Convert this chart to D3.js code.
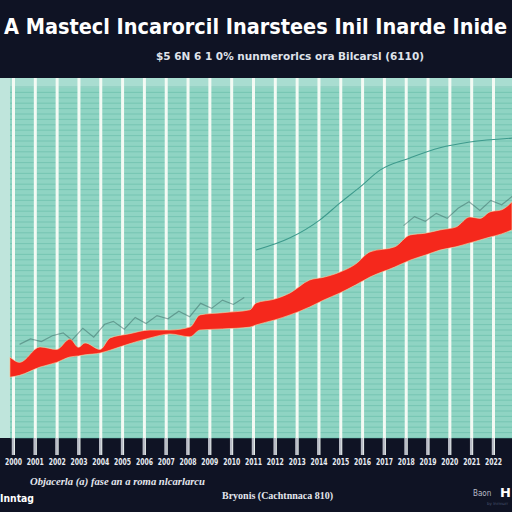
<!DOCTYPE html>
<html>
<head>
<meta charset="utf-8">
<script src="https://cdn.jsdelivr.net/npm/d3@7"></script>
<style>
  html, body { margin: 0; padding: 0; background: #0f1324; }
  svg { display: block; }
</style>
</head>
<body>
<div id="chart"></div>
<script>
// ---------- data ----------
const titleText = "A Mastecl Incarorcil Inarstees Inil Inarde Inide";
const subtitleText = "$5 6N 6 1 0% nunmerorlcs ora Bilcarsl (6110)";
const periods = ["2000","2001","2002","2003","2004","2005","2006","2007","2008","2009","2010","2011",
                 "2012","2013","2014","2015","2016","2017","2018","2019","2020","2021","2022"];
// red band (period index, upper value, lower value)
const bandT    = [-0.14, 0.3, 1.24, 2.0, 2.61, 3.0, 3.3, 3.99, 4.45, 5.3, 6.28, 7.2, 8.11, 8.57, 9.6, 10.86, 11.14, 12.0, 12.7, 13.6, 14.2, 14.99, 15.7, 16.36, 17.5, 18.2, 18.9, 19.57, 20.3, 20.94, 21.4, 21.86, 22.4, 22.87];
const bandHigh = [22.5, 21.0, 25.3, 24.6, 27.5, 25.2, 26.4, 24.6, 27.8, 28.9, 30.0, 30.0, 30.8, 34.2, 34.8, 35.6, 37.5, 38.6, 40.3, 43.9, 44.6, 46.1, 48.3, 51.7, 53.1, 56.4, 56.9, 57.8, 58.6, 61.4, 61.0, 62.8, 63.4, 65.6];
const bandLow  = [16.9, 17.4, 19.7, 21.0, 22.5, 22.8, 23.1, 23.6, 24.4, 26.1, 27.8, 28.9, 28.1, 30.0, 30.3, 30.8, 31.4, 32.8, 34.2, 36.4, 38.2, 40.3, 42.5, 44.7, 47.5, 49.4, 50.8, 52.2, 53.1, 54.2, 55.0, 55.8, 56.7, 57.8];
// thin teal trend line
const trendT   = [11.14, 12.7, 14.07, 14.99, 15.9, 16.82, 18.2, 19.57, 20.94, 22.87];
const trendV   = [52.2, 55.6, 60.6, 65.3, 69.7, 74.4, 77.8, 80.6, 82.2, 83.3];
// dark jagged noise series above the band
const noiseT   = [0.3, 0.8, 1.3, 1.8, 2.3, 2.7, 3.2, 3.7, 4.2, 4.6, 5.1, 5.6, 6.1, 6.6, 7.1, 7.6, 8.1, 8.6, 9.1, 9.6, 10.1, 10.6];
const noiseV   = [26.0, 27.5, 26.8, 28.4, 29.2, 27.2, 30.5, 28.0, 31.6, 32.4, 30.2, 33.5, 31.8, 34.0, 33.1, 35.2, 33.7, 37.4, 36.0, 38.3, 37.1, 39.0];
const noise2T  = [17.9, 18.4, 18.9, 19.4, 19.9, 20.4, 20.9, 21.4, 21.9, 22.4, 22.9];
const noise2V  = [59.0, 61.5, 60.2, 62.4, 61.0, 63.8, 65.6, 63.2, 66.0, 64.8, 67.2];

// ---------- layout ----------
const W = 512, H = 512;
const plot = { left: 10, right: 512, top: 78, bottom: 438 };

const svg = d3.select("#chart").append("svg").attr("width", W).attr("height", H);
svg.append("rect").attr("width", W).attr("height", H).attr("fill", "#0f1324");

const x = d3.scaleLinear().domain([0, periods.length - 1]).range([13, 493]);
const y = d3.scaleLinear().domain([0, 100]).range([plot.bottom, plot.top]);

// plot background
svg.append("rect").attr("x", plot.left).attr("y", plot.top)
  .attr("width", plot.right - plot.left).attr("height", plot.bottom - plot.top)
  .attr("fill", "#8fd4c3");
svg.append("rect").attr("x", 0).attr("y", plot.top)
  .attr("width", plot.left).attr("height", plot.bottom - plot.top)
  .attr("fill", "#bfe5dc");
svg.append("rect").attr("x", plot.left).attr("y", plot.top)
  .attr("width", plot.right - plot.left).attr("height", 10)
  .attr("fill", "#a9ddd1");

// horizontal texture grid
const hTicks = d3.range(0, 98, 1.5);
svg.append("g").selectAll("line").data(hTicks).join("line")
  .attr("x1", plot.left).attr("x2", plot.right)
  .attr("y1", d => y(d)).attr("y2", d => y(d))
  .attr("stroke", "#5fb8a4").attr("stroke-width", 1).attr("opacity", 0.5);

// bottom axis (ticks extend below plot)
const xAxis = d3.axisBottom(x)
  .tickValues(d3.range(periods.length))
  .tickFormat(i => periods[i])
  .tickSize(plot.bottom - plot.top + 17)
  .tickPadding(4);
const ax = svg.append("g").attr("transform", `translate(0,${plot.top})`).call(xAxis);
ax.select(".domain").remove();
ax.selectAll(".tick line").attr("stroke", "#f3faf4").attr("stroke-width", 3);
ax.selectAll(".tick text")
  .attr("fill", "#e8ecf2")
  .attr("font-family", "'DejaVu Sans Condensed', 'DejaVu Sans', sans-serif")
  .attr("font-weight", "bold").attr("font-size", 8)
  .attr("textLength", 17).attr("lengthAdjust", "spacingAndGlyphs");
// grey stubs below plot
svg.append("g").selectAll("line").data(d3.range(periods.length)).join("line")
  .attr("x1", d => x(d)).attr("x2", d => x(d))
  .attr("y1", plot.bottom).attr("y2", plot.bottom + 17)
  .attr("stroke", "#b9bcc6").attr("stroke-width", 2.5);

// dark noise lines
const noiseLine = d3.line().x(d => x(d[0])).y(d => y(d[1])).curve(d3.curveLinear);
svg.append("path").datum(noiseT.map((t, i) => [t, noiseV[i]]))
  .attr("d", noiseLine).attr("fill", "none")
  .attr("stroke", "#3f6f6a").attr("stroke-width", 1.2).attr("opacity", 0.55);
svg.append("path").datum(noise2T.map((t, i) => [t, noise2V[i]]))
  .attr("d", noiseLine).attr("fill", "none")
  .attr("stroke", "#3f6f6a").attr("stroke-width", 1.2).attr("opacity", 0.55);

// red band
const bandData = bandT.map((t, i) => ({ t, hi: bandHigh[i], lo: bandLow[i] }));
const area = d3.area().x(d => x(d.t)).y0(d => y(d.lo)).y1(d => y(d.hi)).curve(d3.curveMonotoneX);
svg.append("path").datum(bandData).attr("d", area)
  .attr("fill", "#f5281c").attr("stroke", "#f7d6a8").attr("stroke-width", 0.6);

// trend line
const trend = d3.line().x(d => x(d[0])).y(d => y(d[1])).curve(d3.curveMonotoneX);
svg.append("path").datum(trendT.map((t, i) => [t, trendV[i]]))
  .attr("d", trend).attr("fill", "none")
  .attr("stroke", "#3d9a8c").attr("stroke-width", 1.1);

// ---------- texts ----------
svg.append("text").attr("x", 4).attr("y", 34)
  .attr("textLength", 503).attr("lengthAdjust", "spacingAndGlyphs")
  .attr("fill", "#ffffff").attr("font-family", "'DejaVu Sans Condensed', 'DejaVu Sans', sans-serif")
  .attr("font-weight", "bold").attr("font-size", 21).text(titleText);
svg.append("text").attr("x", 156).attr("y", 60)
  .attr("textLength", 268).attr("lengthAdjust", "spacingAndGlyphs")
  .attr("fill", "#dfe2ea").attr("font-family", "'DejaVu Sans Condensed', sans-serif")
  .attr("font-weight", "bold").attr("font-size", 10).text(subtitleText);

svg.append("text").attr("x", 30).attr("y", 485)
  .attr("textLength", 175).attr("lengthAdjust", "spacingAndGlyphs")
  .attr("fill", "#e4e7ee").attr("font-family", "'Liberation Serif', serif")
  .attr("font-style", "italic").attr("font-weight", "bold").attr("font-size", 10)
  .text("Objacerla (a) fase an a roma nlcarlarcu");
svg.append("text").attr("x", 222).attr("y", 499)
  .attr("textLength", 111).attr("lengthAdjust", "spacingAndGlyphs")
  .attr("fill", "#e4e7ee").attr("font-family", "'Liberation Serif', serif")
  .attr("font-weight", "bold").attr("font-size", 10).text("Bryonis (Cachtnnaca 810)");
svg.append("text").attr("x", 0).attr("y", 502)
  .attr("textLength", 34).attr("lengthAdjust", "spacingAndGlyphs")
  .attr("fill", "#ffffff").attr("font-family", "'DejaVu Sans Condensed', sans-serif")
  .attr("font-weight", "bold").attr("font-size", 11).text("Inntag");
svg.append("text").attr("x", 473).attr("y", 496)
  .attr("fill", "#b8bcc8").attr("font-family", "'DejaVu Sans Condensed', sans-serif")
  .attr("font-size", 8).text("Baon");
svg.append("text").attr("x", 500).attr("y", 497)
  .attr("fill", "#ffffff").attr("font-family", "'DejaVu Sans', sans-serif")
  .attr("font-weight", "bold").attr("font-size", 13).text("H");
svg.append("text").attr("x", 487).attr("y", 505)
  .attr("fill", "#4a5670").attr("font-family", "'DejaVu Sans', sans-serif")
  .attr("font-size", 4).text("by Inrmurr");
</script>
</body>
</html>
